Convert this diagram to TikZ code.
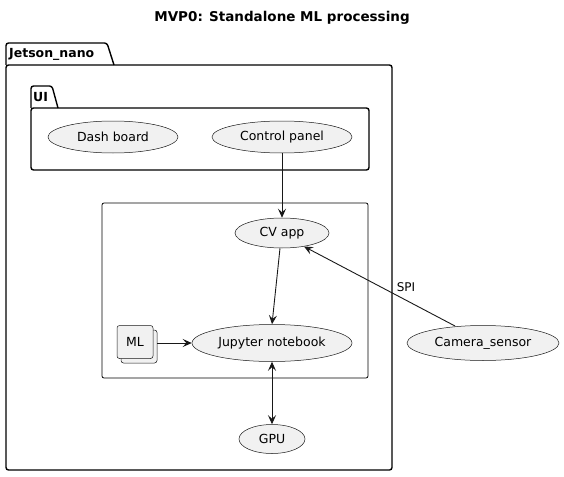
\documentclass[tikz,border=0pt]{standalone}
\usepackage{fontspec}
\setmainfont{DejaVu Sans}
\usetikzlibrary{arrows.meta,shapes.geometric}
\definecolor{ufill}{HTML}{F1F1F1}
\definecolor{uline}{HTML}{181818}
\tikzset{
  uc/.style={ellipse,draw=uline,fill=ufill,line width=0.5pt,inner sep=0pt,font=\fontsize{12.5}{14}\selectfont},
  pkg/.style={draw=black,line width=1.4pt,rounded corners=2.5pt},
  conn/.style={draw=uline,line width=0.9pt,-{Stealth[length=9pt,width=8pt,inset=3.5pt]}},
  lbl/.style={font=\fontsize{12}{14}\selectfont,inner sep=0pt}
}
\begin{document}
\begin{tikzpicture}[x=1pt,y=-1pt]
\useasboundingbox (0,0) rectangle (564,476);
% title
\node[font=\bfseries\fontsize{13.5}{16}\selectfont] (title) at (282,18) {MVP0: Standalone ML processing};
% Jetson_nano package
\draw[pkg] (6,65) -- (6,43) -- (107,43) -- (114,65);
\draw[pkg] (6,65) rectangle (392,470);
\node[font=\bfseries\fontsize{12.5}{14}\selectfont,anchor=west,inner sep=0pt] (jn) at (9,54) {Jetson\_nano};
% UI package
\draw[pkg] (31,108) -- (31,86) -- (52,86) -- (58,108);
\draw[pkg] (31,108) rectangle (369,170);
\node[font=\bfseries\fontsize{12.5}{14}\selectfont,anchor=west,inner sep=0pt] (ui) at (33,97) {UI};
% inner rectangle
\draw[draw=black,line width=0.8pt,rounded corners=2pt] (102,203) rectangle (368,378);
% use cases
\node[uc,minimum width=130pt,minimum height=32pt] (dash) at (113,137) {Dash board};
\node[uc,minimum width=140pt,minimum height=32pt] (ctrl) at (282,137) {Control panel};
\node[uc,minimum width=94pt,minimum height=30pt] (cv) at (282,233) {CV app};
\node[uc,minimum width=160pt,minimum height=37pt] (jup) at (272,343) {Jupyter notebook};
\node[uc,minimum width=66pt,minimum height=29pt] (gpu) at (272,439) {GPU};
\node[uc,minimum width=152pt,minimum height=35pt] (cam) at (483,343) {Camera\_sensor};
% ML stacked
\draw[draw=uline,fill=ufill,line width=0.5pt,rounded corners=2.5pt] (121,330) rectangle (157,363);
\node[draw=uline,fill=ufill,line width=0.5pt,rounded corners=2.5pt,minimum width=36pt,minimum height=33pt,inner sep=0pt,font=\fontsize{12.5}{14}\selectfont] (ml) at (135,342) {ML};
% connectors
\draw[conn] (ctrl.south) -- (cv.north);
\draw[conn] (cv.south) ++(-2,0) coordinate (cvs) (cvs) -- (jup.north);
\coordinate (mlr) at (157,343);
\draw[conn] (mlr) -- (jup.west);
\draw[draw=uline,line width=0.9pt,{Stealth[length=9pt,width=8pt,inset=3.5pt]}-{Stealth[length=9pt,width=8pt,inset=3.5pt]}] (jup.south) -- (gpu.north);
\coordinate (camt) at (455,326);
\coordinate (cvr) at (304,246.5);
\draw[conn] (camt) -- (cvr);
\node[lbl] (spi) at (406,287) {SPI};
\end{tikzpicture}
\end{document}
